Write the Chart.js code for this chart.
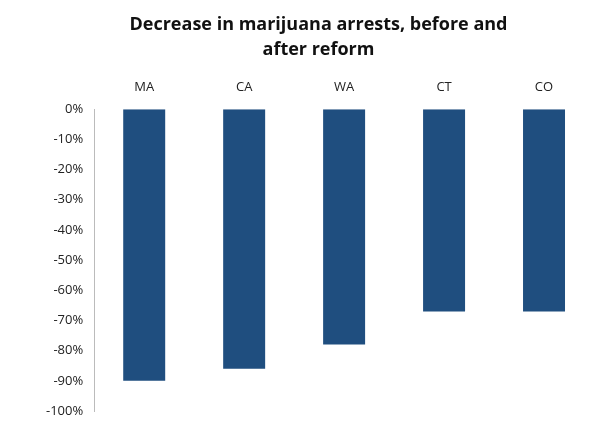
<!DOCTYPE html>
<html>
<head>
<script src="https://cdn.jsdelivr.net/npm/chart.js@4"></script>
<style>body{margin:0;background:#fff}#wrap{width:600px;height:422px}</style>
</head>
<body>
<div id="wrap"><canvas id="c"></canvas></div>
<script>
const states = ['MA', 'CA', 'WA', 'CT', 'CO'];
const change = [-90, -86, -78, -67, -67];
const yTicks = [0, -10, -20, -30, -40, -50, -60, -70, -80, -90, -100];

new Chart(document.getElementById('c'), {
  type: 'bar',
  data: {
    labels: states,
    datasets: [{
      data: change,
      backgroundColor: '#1f4e7f',
      barPercentage: 0.42,
      categoryPercentage: 1
    }]
  },
  options: {
    responsive: true,
    maintainAspectRatio: false,
    animation: false,
    layout: { padding: { left: 43, right: 6, bottom: 11, top: 0 } },
    plugins: {
      legend: { display: false },
      tooltip: { enabled: false },
      title: {
        display: true,
        text: ['Decrease in marijuana arrests, before and', 'after reform'],
        color: '#111',
        font: { family: 'Open Sans', size: 18, weight: 'bold', lineHeight: 1.35 },
        padding: { top: 13, bottom: 12 }
      }
    },
    scales: {
      x: {
        position: 'top',
        grid: { display: false },
        border: { display: false },
        ticks: { color: '#222', font: { family: 'Open Sans', size: 13 }, padding: 6 }
      },
      y: {
        min: -100, max: 0,
        afterBuildTicks: (s) => { s.ticks = yTicks.map(v => ({ value: v })); },
        grid: { display: false },
        border: { display: true, color: '#bbb' },
        ticks: {
          color: '#222',
          font: { family: 'Open Sans', size: 13 },
          callback: (v) => v + '%'
        }
      }
    }
  }
});
</script>
</body>
</html>
